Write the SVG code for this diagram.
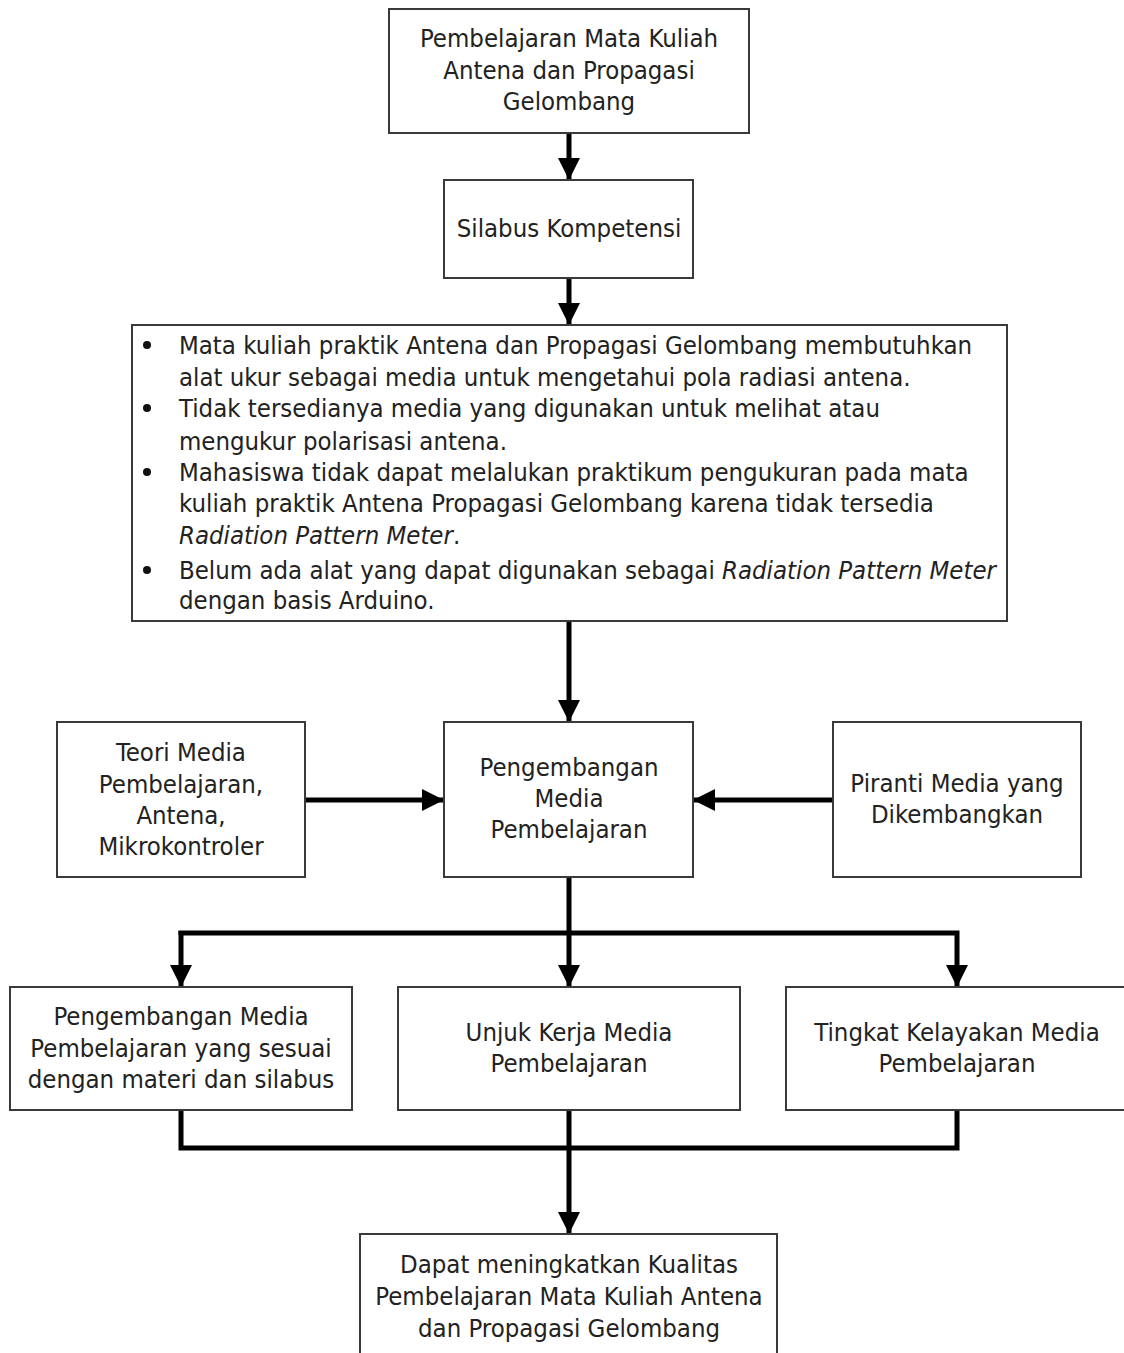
<svg xmlns="http://www.w3.org/2000/svg" width="1124" height="1353" viewBox="0 0 1124 1353">
<defs>
<style>
.box{fill:#fff;stroke:#3a3a3a;stroke-width:2}
text{font-family:"DejaVu Sans Condensed","DejaVu Sans",sans-serif;font-size:25.5px;fill:#222}
.c{text-anchor:middle}
.i{font-style:italic}
.con{fill:none;stroke:#000;stroke-width:5}
</style>
<marker id="ah" viewBox="0 0 10 10" refX="10" refY="5" markerWidth="4.4" markerHeight="4.4" markerUnits="strokeWidth" orient="auto">
<path d="M0,0 L10,5 L0,10 z" fill="#000"/>
</marker>
</defs>
<rect width="1124" height="1353" fill="#fff"/>
<g id="connectors">
<line class="con" x1="569" y1="133" x2="569" y2="180" marker-end="url(#ah)"/>
<line class="con" x1="569" y1="278" x2="569" y2="325" marker-end="url(#ah)"/>
<line class="con" x1="569" y1="621" x2="569" y2="722" marker-end="url(#ah)"/>
<line class="con" x1="305" y1="800" x2="444" y2="800" marker-end="url(#ah)"/>
<line class="con" x1="833" y1="800" x2="693" y2="800" marker-end="url(#ah)"/>
<line class="con" x1="569" y1="877" x2="569" y2="987" marker-end="url(#ah)"/>
<polyline class="con" points="181,935 181,933 957,933 957,987" marker-end="url(#ah)"/>
<line class="con" x1="181" y1="931" x2="181" y2="987" marker-end="url(#ah)"/>
<polyline class="con" points="181,1110 181,1148 957,1148 957,1110"/>
<line class="con" x1="569" y1="1110" x2="569" y2="1234" marker-end="url(#ah)"/>
</g>
<g id="n1"><rect class="box" x="389" y="9" width="360" height="124"/>
<text class="c" x="569" y="47">Pembelajaran Mata Kuliah</text>
<text class="c" x="569" y="79">Antena dan Propagasi</text>
<text class="c" x="569" y="110">Gelombang</text></g>
<g id="n2"><rect class="box" x="444" y="180" width="249" height="98"/>
<text class="c" x="569" y="237">Silabus Kompetensi</text></g>
<g id="n3"><rect class="box" x="132" y="325" width="875" height="296"/>
<circle cx="147" cy="345" r="4" fill="#111"/>
<circle cx="147" cy="408" r="4" fill="#111"/>
<circle cx="147" cy="472" r="4" fill="#111"/>
<circle cx="147" cy="570" r="4" fill="#111"/>
<text x="179" y="354">Mata kuliah praktik Antena dan Propagasi Gelombang membutuhkan</text>
<text x="179" y="386">alat ukur sebagai media untuk mengetahui pola radiasi antena.</text>
<text x="179" y="417">Tidak tersedianya media yang digunakan untuk melihat atau</text>
<text x="179" y="450">mengukur polarisasi antena.</text>
<text x="179" y="481">Mahasiswa tidak dapat melalukan praktikum pengukuran pada mata</text>
<text x="179" y="512">kuliah praktik Antena Propagasi Gelombang karena tidak tersedia</text>
<text x="179" y="544"><tspan class="i">Radiation Pattern Meter</tspan>.</text>
<text x="179" y="579">Belum ada alat yang dapat digunakan sebagai <tspan class="i">Radiation Pattern Meter</tspan></text>
<text x="179" y="609">dengan basis Arduino.</text></g>
<g id="n4"><rect class="box" x="57" y="722" width="248" height="155"/>
<text class="c" x="181" y="761">Teori Media</text>
<text class="c" x="181" y="793">Pembelajaran,</text>
<text class="c" x="181" y="824">Antena,</text>
<text class="c" x="181" y="855">Mikrokontroler</text></g>
<g id="n5"><rect class="box" x="444" y="722" width="249" height="155"/>
<text class="c" x="569" y="776">Pengembangan</text>
<text class="c" x="569" y="807">Media</text>
<text class="c" x="569" y="838">Pembelajaran</text></g>
<g id="n6"><rect class="box" x="833" y="722" width="248" height="155"/>
<text class="c" x="957" y="792">Piranti Media yang</text>
<text class="c" x="957" y="823">Dikembangkan</text></g>
<g id="n7"><rect class="box" x="10" y="987" width="342" height="123"/>
<text class="c" x="181" y="1025">Pengembangan Media</text>
<text class="c" x="181" y="1057">Pembelajaran yang sesuai</text>
<text class="c" x="181" y="1088">dengan materi dan silabus</text></g>
<g id="n8"><rect class="box" x="398" y="987" width="342" height="123"/>
<text class="c" x="569" y="1041">Unjuk Kerja Media</text>
<text class="c" x="569" y="1072">Pembelajaran</text></g>
<g id="n9"><rect class="box" x="786" y="987" width="342" height="123"/>
<text class="c" x="957" y="1041">Tingkat Kelayakan Media</text>
<text class="c" x="957" y="1072">Pembelajaran</text></g>
<g id="n10"><rect class="box" x="360" y="1234" width="417" height="126"/>
<text class="c" x="569" y="1273">Dapat meningkatkan Kualitas</text>
<text class="c" x="569" y="1305">Pembelajaran Mata Kuliah Antena</text>
<text class="c" x="569" y="1337">dan Propagasi Gelombang</text></g>
</svg>
